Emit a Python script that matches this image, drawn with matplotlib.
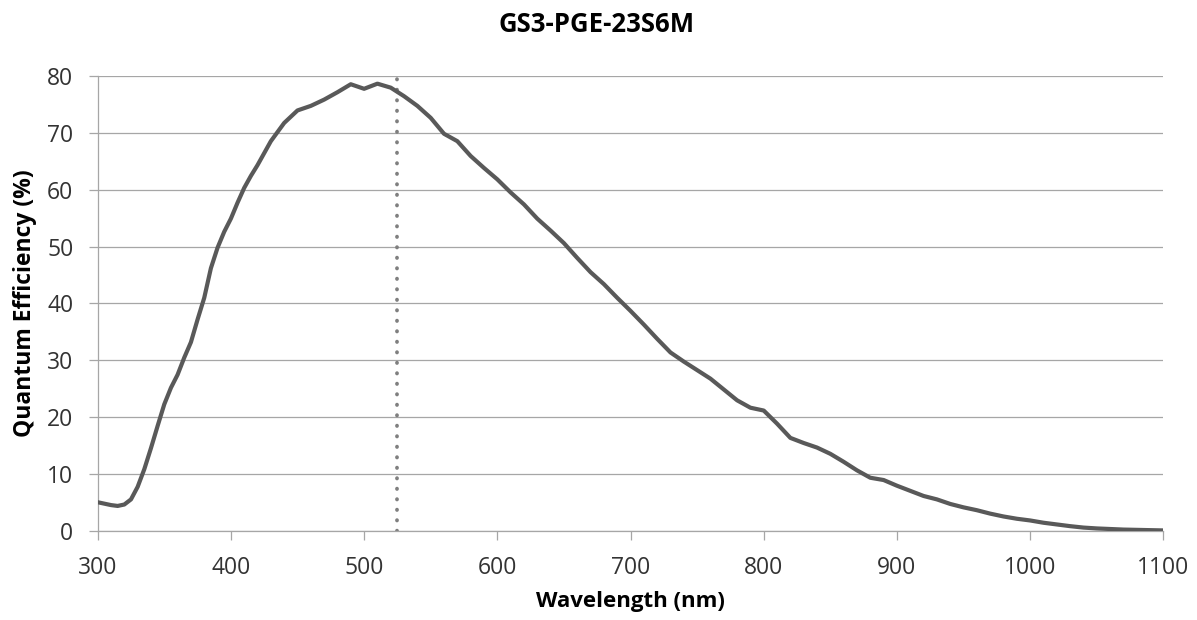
import matplotlib
matplotlib.use('Agg')
import matplotlib.pyplot as plt

# quantum efficiency curve
# (5 nm steps on the steep rise, 10 nm after that)
wavelength = [300, 305, 310, 315, 320, 325, 330, 335, 340, 345,
              350, 355, 360, 365, 370, 375, 380, 385, 390, 395,
              400, 405, 410, 415, 420,
              430, 440, 450, 460, 470, 480, 490, 500, 510, 520,
              530, 540, 550, 560, 570, 580, 590, 600, 610, 620,
              630, 640, 650, 660, 670, 680, 690, 700, 710, 720,
              730, 740, 750, 760, 770, 780, 790, 800, 810, 820,
              830, 840, 850, 860, 870, 880, 890, 900, 910, 920,
              930, 940, 950, 960, 970, 980, 990, 1000, 1010, 1020,
              1030, 1040, 1050, 1060, 1070, 1080, 1090, 1100]
qe = [5.1, 4.85, 4.6, 4.45, 4.7, 5.6, 7.8, 10.9, 14.6, 18.5,
      22.3, 25.2, 27.5, 30.5, 33.2, 37.2, 41.0, 46.2, 49.8, 52.6,
      54.9, 57.7, 60.3, 62.4, 64.3,
      68.5, 71.7, 73.9, 74.7, 75.8, 77.1, 78.5, 77.7, 78.6, 77.9,
      76.4, 74.7, 72.6, 69.8, 68.5, 65.9, 63.8, 61.8, 59.5, 57.4,
      54.9, 52.8, 50.6, 48.0, 45.5, 43.4, 41.0, 38.7, 36.3, 33.8,
      31.4, 29.8, 28.3, 26.8, 24.9, 23.0, 21.7, 21.2, 18.9, 16.4,
      15.5, 14.7, 13.6, 12.2, 10.7, 9.4, 9.0, 8.0, 7.1, 6.2,
      5.6, 4.8, 4.2, 3.7, 3.1, 2.6, 2.2, 1.9, 1.5, 1.2,
      0.9, 0.65, 0.5, 0.4, 0.3, 0.25, 0.2, 0.15]

# dotted marker line
peak_nm = 525
peak_line = [0, 79.5]

x_ticks = [300, 400, 500, 600, 700, 800, 900, 1000, 1100]
y_ticks = [0, 10, 20, 30, 40, 50, 60, 70, 80]

title = 'GS3-PGE-23S6M'
x_label = 'Wavelength (nm)'
y_label = 'Quantum Efficiency (%)'

fig = plt.figure(figsize=(11.97, 6.2), dpi=100)
ax = fig.add_axes([0.0816, 0.1431, 0.8903, 0.7348])

grid_col = '#a6a6a6'
for y in y_ticks:
    ax.axhline(y, color=grid_col, lw=0.9, zorder=1)

ax.plot(wavelength, qe, color='#595959', lw=3.0, solid_joinstyle='round',
        solid_capstyle='round', zorder=3)
ax.plot([peak_nm, peak_nm], peak_line, color='#7f7f7f', lw=2.7,
        linestyle=(0, (0.1, 2.7)), dash_capstyle='round', zorder=2)

ax.set_xlim(300, 1100)
ax.set_ylim(0, 80)
ax.set_xticks(x_ticks)
ax.set_yticks(y_ticks)

for s in ['top', 'right']:
    ax.spines[s].set_visible(False)
for s in ['left', 'bottom']:
    ax.spines[s].set_color(grid_col)
    ax.spines[s].set_linewidth(0.9)

ax.tick_params(axis='both', direction='out', length=6.5, width=0.9,
               color=grid_col, labelsize=16.5, labelcolor='#333333', pad=11)
for lab in ax.get_xticklabels() + ax.get_yticklabels():
    lab.set_family('Open Sans')

ax.set_xlabel(x_label, fontsize=16, fontweight='bold', family='Open Sans',
              labelpad=8)
ax.set_ylabel(y_label, fontsize=16.5, fontweight='bold', family='Open Sans',
              labelpad=7)
fig.text(0.498, 0.961, title, fontsize=18.5, fontweight='bold',
         family='Open Sans', ha='center', va='center')

fig.savefig('out.png', dpi=100)
